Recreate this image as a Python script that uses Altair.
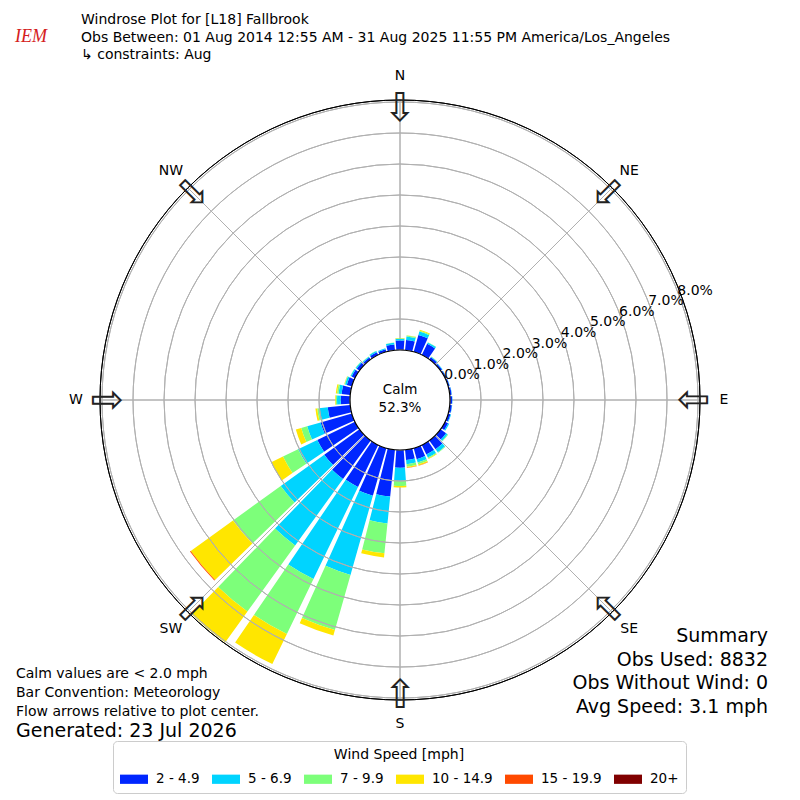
import altair as alt
import pandas as pd
import math

# ---------------- data ----------------
dirs = list(range(0, 360, 10))
bin_labels = ["2 - 4.9", "5 - 6.9", "7 - 9.9", "10 - 14.9", "15 - 19.9", "20+"]
bin_colors = ["#0026ff", "#00d4ff", "#7dff7a", "#ffe600", "#ff4a00", "#800000"]

# percent of observations per direction (0,10,...,350) for each speed bin
s_2_5 = [0.31, 0.33, 0.57, 0.40, 0.09, 0.06, 0.05, 0.05, 0.06, 0.07, 0.07, 0.08,
         0.11, 0.22, 0.35, 0.34, 0.37, 0.33, 0.57, 1.52, 1.60, 1.50, 1.53, 1.40,
         1.35, 1.05, 0.73, 0.30, 0.28, 0.17, 0.12, 0.11, 0.08, 0.10, 0.09, 0.19]
s_5_7 = [0.05, 0.12, 0.11, 0.05, 0.02, 0.02, 0.01, 0.01, 0.01, 0.01, 0.01, 0.02,
         0.04, 0.06, 0.12, 0.11, 0.11, 0.14, 0.43, 0.87, 2.65, 3.30, 2.64, 1.73,
         0.69, 0.45, 0.29, 0.12, 0.10, 0.06, 0.04, 0.04, 0.03, 0.04, 0.03, 0.05]
s_7_10 = [0.02, 0.03, 0.03, 0.01, 0.01, 0.0, 0.0, 0.0, 0.0, 0.0, 0.0, 0.0,
          0.0, 0.02, 0.02, 0.03, 0.06, 0.08, 0.16, 0.97, 1.85, 1.97, 2.63, 1.90,
          0.54, 0.20, 0.05, 0.04, 0.05, 0.02, 0.01, 0.01, 0.01, 0.01, 0.0, 0.01]
s_10_15 = [0.01, 0.01, 0.03, 0.0, 0.0, 0.0, 0.0, 0.0, 0.0, 0.0, 0.0, 0.0,
           0.0, 0.0, 0.0, 0.02, 0.04, 0.03, 0.05, 0.13, 0.18, 1.08, 1.23, 1.68,
           0.42, 0.18, 0.06, 0.02, 0.04, 0.01, 0.0, 0.0, 0.0, 0.0, 0.0, 0.0]
s_15_20 = [0.0] * 16 + [0.01, 0.01] + [0.0] * 5 + [0.03] + [0.0] * 12
s_20p = [0.0] * 36

calm_pct = 52.3
ring_vals = [0, 1, 2, 3, 4, 5, 6, 7, 8]
ring_labels = ["0.0%", "1.0%", "2.0%", "3.0%", "4.0%", "5.0%", "6.0%", "7.0%", "8.0%"]
compass_deg = [0, 45, 90, 135, 180, 225, 270, 315]
compass_lab = ["N", "NE", "E", "SE", "S", "SW", "W", "NW"]

title_lines = ["Windrose Plot for [L18] Fallbrook",
               "Obs Between: 01 Aug 2014 12:55 AM - 31 Aug 2025 11:55 PM America/Los_Angeles",
               "\u21b3 constraints: Aug"]
note_lines = ["Calm values are < 2.0 mph", "Bar Convention: Meteorology",
              "Flow arrows relative to plot center."]
generated = "Generated: 23 Jul 2026"
summary_lines = ["Summary", "Obs Used: 8832", "Obs Without Wind: 0", "Avg Speed: 3.1 mph"]

# ---------------- tables ----------------
series = [s_2_5, s_5_7, s_7_10, s_10_15, s_15_20, s_20p]
rows = []
for i, d in enumerate(dirs):
    cum = 0.0
    for b, s in enumerate(series):
        v = s[i]
        if v > 0:
            rows.append({"t0": d - 4.2, "t1": d + 4.2, "r0": cum, "r1": cum + v,
                         "bin": bin_labels[b]})
            cum += v
bars = pd.DataFrame(rows)
rings = pd.DataFrame({"ring": ring_vals, "lab": ring_labels, "ang": [70] * len(ring_vals)})
compass = pd.DataFrame({"deg": compass_deg, "lab": compass_lab})

FONT = "DejaVu Sans"
tscale = alt.Scale(type="linear", domain=[0, 360], range=[0, 2 * math.pi])
rscale = alt.Scale(type="linear", domain=[0, 250 / 31], range=[50, 300], zero=False)
one = pd.DataFrame({"k": [0]})

radial = alt.Chart(compass).mark_arc(fill="transparent", stroke="#b0b0b0", strokeWidth=1).encode(
    theta=alt.Theta("deg:Q", scale=tscale, stack=False),
    theta2="deg:Q",
    radius=alt.value(300),
    radius2=alt.value(50),
)

bar_layer = alt.Chart(bars).mark_arc(stroke=None).encode(
    theta=alt.Theta("t0:Q", scale=tscale, stack=False),
    theta2="t1:Q",
    radius=alt.Radius("r1:Q", scale=rscale, stack=False),
    radius2="r0:Q",
    color=alt.Color("bin:N", scale=alt.Scale(domain=bin_labels, range=bin_colors),
                    legend=alt.Legend(
                        title="Wind Speed [mph]", orient="none", legendX=105, legendY=733,
                        direction="horizontal", columns=6, titleAnchor="middle",
                        titleFontWeight="normal", titleFontSize=14, titleFont=FONT,
                        labelFontSize=13.5, labelFont=FONT, labelOffset=8, columnPadding=12,
                        symbolType="M-1,-0.33H1V0.33H-1Z", symbolSize=784,
                        symbolStrokeWidth=0, strokeColor="#cccccc", fillColor="white",
                        cornerRadius=4, padding=7, titlePadding=3)),
)

ring_layer = alt.Chart(rings).mark_arc(fill="transparent", stroke="#b0b0b0", strokeWidth=1,
                                       theta=0, theta2=2 * math.pi).encode(
    radius=alt.Radius("ring:Q", scale=rscale, stack=False),
    radius2="ring:Q",
)

outer = alt.Chart(one).mark_arc(fill="transparent", stroke="black", strokeWidth=1,
                                theta=0, theta2=2 * math.pi, radius=300, radius2=300).encode(
    color=alt.value("black"))

calm = alt.Chart(one).mark_arc(fill="white", stroke="black", strokeWidth=1.2,
                               theta=0, theta2=2 * math.pi, radius=50).encode(
    opacity=alt.value(1))

ring_text = alt.Chart(rings).mark_text(align="left", baseline="middle", fontSize=14,
                                       font=FONT, color="black", dx=-2.7, dy=-7.5).encode(
    theta=alt.Theta("ang:Q", scale=tscale, stack=False),
    radius=alt.Radius("ring:Q", scale=rscale, stack=False),
    text="lab:N",
)

compass_text = alt.Chart(compass).mark_text(align="center", baseline="middle", fontSize=14,
                                            font=FONT, color="black").encode(
    theta=alt.Theta("deg:Q", scale=tscale, stack=False),
    radius=alt.value(324),
    text="lab:N",
)

arrows = alt.Chart(compass).mark_text(align="center", baseline="middle", fontSize=40,
                                      font=FONT, color="#222222", text="\u21e9").encode(
    theta=alt.Theta("deg:Q", scale=tscale, stack=False),
    radius=alt.value(291),
    angle=alt.Angle("deg:Q", scale=alt.Scale(domain=[0, 360], range=[0, 360])),
)


def label(txt, x, y, size=13, align="left", color="black", font=FONT, style="normal"):
    return alt.Chart(one).mark_text(align=align, baseline="middle", fontSize=size, font=font,
                                    color=color, fontStyle=style).encode(
        x=alt.value(x), y=alt.value(y), text=alt.value(txt))


texts = []
for i, t in enumerate(title_lines):
    texts.append(label(t, 73, 12 + 17.5 * i, 14))
for i, t in enumerate(note_lines):
    texts.append(label(t, 8, 666 + 19 * i, 14))
texts.append(label(generated, 8, 723, 19))
for i, t in enumerate(summary_lines):
    texts.append(label(t, 760, 628 + 23.5 * i, 19, align="right"))
texts.append(label("Calm", 392, 382, 13.5, align="center"))
texts.append(label(f"{calm_pct:.1f}%", 392, 400, 13.5, align="center"))
texts.append(label("IEM", 23, 29, 18, align="center", color="#d42020",
                   font="Liberation Serif", style="italic"))

chart = alt.layer(radial, bar_layer, ring_layer, outer, calm, ring_text, compass_text, arrows,
                  *texts).properties(width=784, height=784, padding=0,
                                     background="white").configure_view(stroke=None)

chart.save("out.html", embed_options={"renderer": "svg", "actions": False})
